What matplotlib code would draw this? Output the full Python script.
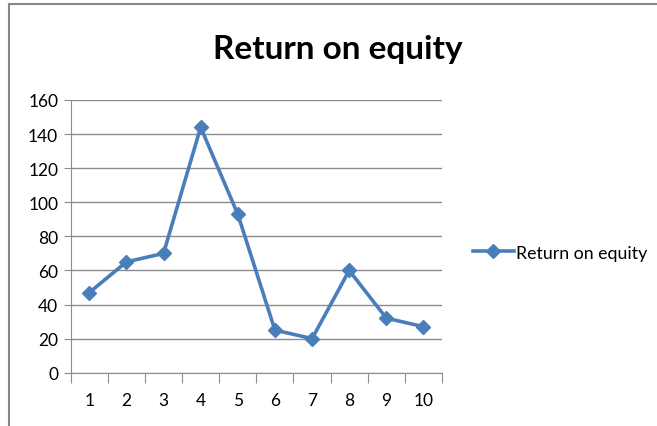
import matplotlib.pyplot as plt
from matplotlib.lines import Line2D

periods = [1, 2, 3, 4, 5, 6, 7, 8, 9, 10]
roe = [47, 65, 70, 144, 93, 25, 20, 60, 32, 27]
yticks = [0, 20, 40, 60, 80, 100, 120, 140, 160]

plt.rcParams['font.family'] = ['Lato', 'DejaVu Sans']

fig = plt.figure(figsize=(6.57, 4.27), dpi=100)
ax = fig.add_axes([0.1076, 0.1248, 0.5652, 0.6387])

blue = '#4a7ebb'
ax.plot(periods, roe, color=blue, lw=2.6, marker='D', ms=7.5,
        label='Return on equity', zorder=3)

ax.set_xlim(0.5, 10.5)
ax.set_ylim(0, 160)
ax.set_yticks(yticks)
ax.yaxis.grid(True, color='#8c8c8c', lw=1)
ax.set_axisbelow(True)

# category ticks between points, labels centred
ax.set_xticks([p + 0.5 for p in [0] + periods])
ax.set_xticklabels([])
ax.set_xticks(periods, minor=True)
ax.set_xticklabels([str(p) for p in periods], minor=True)
ax.tick_params(axis='x', which='major', length=7, color='#8c8c8c', direction='out')
ax.tick_params(axis='x', which='minor', length=0, pad=14, labelsize=12.5)
ax.tick_params(axis='y', length=5, color='#8c8c8c', labelsize=12.5, pad=4)

for s in ['top', 'right']:
    ax.spines[s].set_visible(False)
ax.spines['left'].set_color('#8c8c8c')
ax.spines['bottom'].set_color('#8c8c8c')

fig.text(0.5145, 0.884, 'Return on equity', fontsize=24, fontweight='bold',
         ha='center', va='center')

ax.legend(loc='center left', bbox_to_anchor=(1.04, 0.44), frameon=False,
          fontsize=12.8, handlelength=2.3, handletextpad=0.15)

# outer frame of the chart (cropped)
fig.add_artist(Line2D([9 / 657, 1], [1 - 5 / 427, 1 - 5 / 427], color='#888888', lw=1.5))
fig.add_artist(Line2D([9 / 657, 9 / 657], [0, 1 - 5 / 427], color='#888888', lw=1.5))

fig.savefig('out.png', dpi=100)
